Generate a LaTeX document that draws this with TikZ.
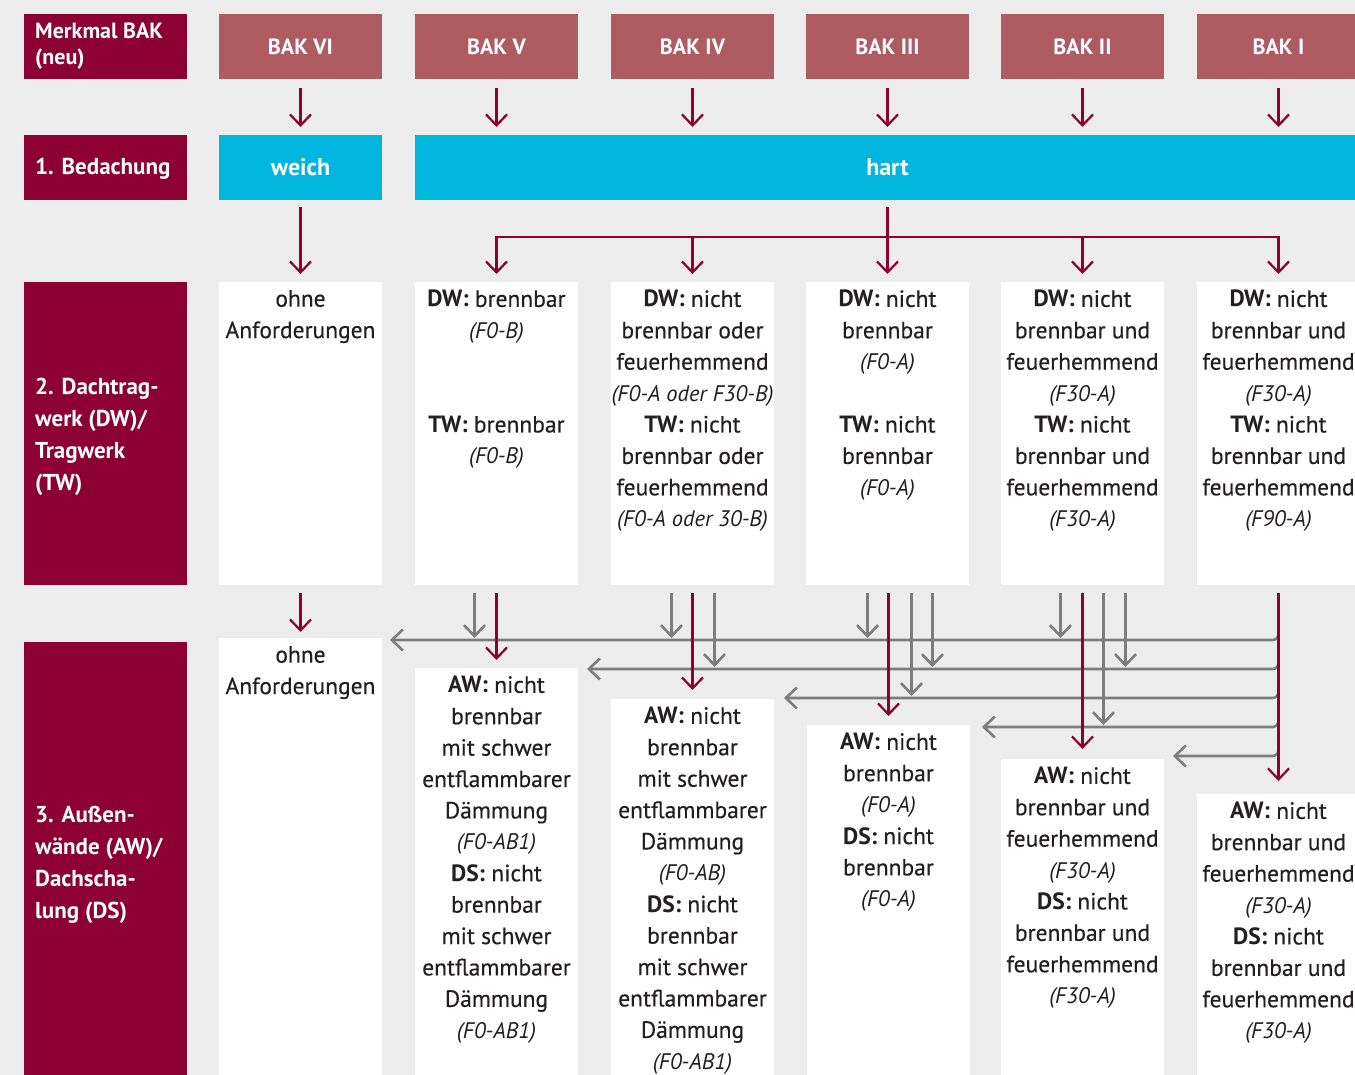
\documentclass[tikz,border=0pt]{standalone}
\usepackage{fontspec}
\setmainfont{PT Sans}
\newfontfamily\medfont[FakeBold=0.35]{PT Sans}
\newfontfamily\plainfont{PT Sans}
\usetikzlibrary{arrows.meta,calc}
\definecolor{bg}{HTML}{EDEDED}
\definecolor{wine}{HTML}{8C0032}
\definecolor{rose}{HTML}{AE5C62}
\definecolor{cyanfill}{HTML}{00B6DE}
\definecolor{arrgray}{HTML}{7D7D7D}
\definecolor{ink}{HTML}{231F20}
\tikzset{
  box/.style={rectangle, inner sep=0pt, outer sep=0pt, anchor=north west, minimum width=163pt},
  labelbox/.style={box, fill=wine},
  labeltext/.style={anchor=west, align=left, inner sep=0pt, text=white, font=\bfseries\fontsize{23}{32}\selectfont},
  headbox/.style={box, fill=rose, minimum height=65pt, text=white, font=\bfseries\fontsize{22}{26}\selectfont},
  cyanbox/.style={box, fill=cyanfill, minimum height=65pt, text=white, font=\bfseries\fontsize{24}{26}\selectfont},
  wbox/.style={box, fill=white},
  bodytext/.style={anchor=north, align=center, inner sep=0pt, text=ink, font=\medfont\fontsize{23.5}{31.4}\selectfont},
  redarr/.style={draw=wine, line width=2.2pt, -{Straight Barb[length=11pt,width=21pt]}},
  grayarr/.style={draw=arrgray, line width=2.6pt, -{Straight Barb[length=11pt,width=21pt]}}
}
\newcommand{\cd}[1]{{\plainfont\itshape\fontsize{22.5}{31.4}\selectfont #1}}
\newcommand{\bl}[1]{{\plainfont\bfseries #1}}
\begin{document}
\begin{tikzpicture}[x=1pt,y=-1pt]
\useasboundingbox (0,0) rectangle (1355,1075);
\fill[bg] (0,0) rectangle (1355,1075);
\clip (0,0) rectangle (1355,1075);

% label column
\node[labelbox, minimum height=65pt] (L0) at (24,14) {};
\node[labeltext, font=\bfseries\fontsize{22}{26}\selectfont] (L0t) at ($(L0.west)+(11,0)$) {Merkmal BAK\\(neu)};
\node[labelbox, minimum height=65pt] (L1) at (24,135) {};
\node[labeltext] (L1t) at ($(L1.west)+(11,1)$) {1. Bedachung};
\node[labelbox, minimum height=303pt] (L2) at (24,282) {};
\node[labeltext] (L2t) at ($(L2.west)+(11,3)$) {2. Dachtrag-\\werk (DW)/\\Tragwerk\\(TW)};
\node[labelbox, minimum height=440pt] (L3) at (24,642) {};
\node[labeltext] (L3t) at ($(L3.west)+(11,3)$) {3. Außen-\\wände (AW)/\\Dachscha-\\lung (DS)};

% header
\node[headbox] (k6) at (219,14) {BAK VI};
\node[headbox] (k5) at (415,14) {BAK V};
\node[headbox] (k4) at (611,14) {BAK IV};
\node[headbox] (k3) at (806,14) {BAK III};
\node[headbox] (k2) at (1001,14) {BAK II};
\node[headbox] (k1) at (1197,14) {BAK I};

% row 1
\node[cyanbox] (weich) at (219,135) {weich};
\node[cyanbox, minimum width=945pt] (hart) at (415,135) {hart};

% row 2
\node[wbox, minimum height=303pt] (r6) at (219,282) {};
\node[wbox, minimum height=303pt] (r5) at (415,282) {};
\node[wbox, minimum height=303pt] (r4) at (611,282) {};
\node[wbox, minimum height=303pt] (r3) at (806,282) {};
\node[wbox, minimum height=303pt] (r2) at (1001,282) {};
\node[wbox, minimum height=303pt] (r1) at (1197,282) {};

\node[bodytext] (r6t) at ($(r6.north)+(0,8)$) {ohne\\Anforderungen};
\node[bodytext] (r5t) at ($(r5.north)+(0,8)$) {\bl{DW:} brennbar\\\cd{(F0-B)}\\~\\~\\\bl{TW:} brennbar\\\cd{(F0-B)}};
\node[bodytext] (r4t) at ($(r4.north)+(0,8)$) {\bl{DW:} nicht\\brennbar oder\\feuerhemmend\\\cd{(F0-A oder F30-B)}\\\bl{TW:} nicht\\brennbar oder\\feuerhemmend\\\cd{(F0-A oder 30-B)}};
\node[bodytext] (r3t) at ($(r3.north)+(0,8)$) {\bl{DW:} nicht\\brennbar\\\cd{(F0-A)}\\~\\\bl{TW:} nicht\\brennbar\\\cd{(F0-A)}};
\node[bodytext] (r2t) at ($(r2.north)+(0,8)$) {\bl{DW:} nicht\\brennbar und\\feuerhemmend\\\cd{(F30-A)}\\\bl{TW:} nicht\\brennbar und\\feuerhemmend\\\cd{(F30-A)}};
\node[bodytext] (r1t) at ($(r1.north)+(0,8)$) {\bl{DW:} nicht\\brennbar und\\feuerhemmend\\\cd{(F30-A)}\\\bl{TW:} nicht\\brennbar und\\feuerhemmend\\\cd{(F90-A)}};

% row 3
\node[wbox, minimum height=460pt] (s6) at (219,638) {};
\node[wbox, minimum height=460pt] (s5) at (415,668) {};
\node[wbox, minimum height=460pt] (s4) at (611,699) {};
\node[wbox, minimum height=460pt] (s3) at (807,725) {};
\node[wbox, minimum height=460pt] (s2) at (1001,759) {};
\node[wbox, minimum height=460pt] (s1) at (1197,794) {};

\node[bodytext] (s6t) at ($(s6.north)+(0,8)$) {ohne\\Anforderungen};
\node[bodytext] (s5t) at ($(s5.north)+(0,8)$) {\bl{AW:} nicht\\brennbar\\mit schwer\\entflammbarer\\Dämmung\\\cd{(F0-AB1)}\\\bl{DS:} nicht\\brennbar\\mit schwer\\entflammbarer\\Dämmung\\\cd{(F0-AB1)}};
\node[bodytext] (s4t) at ($(s4.north)+(0,8)$) {\bl{AW:} nicht\\brennbar\\mit schwer\\entflammbarer\\Dämmung\\\cd{(F0-AB)}\\\bl{DS:} nicht\\brennbar\\mit schwer\\entflammbarer\\Dämmung\\\cd{(F0-AB1)}};
\node[bodytext] (s3t) at ($(s3.north)+(0,8)$) {\bl{AW:} nicht\\brennbar\\\cd{(F0-A)}\\\bl{DS:} nicht\\brennbar\\\cd{(F0-A)}};
\node[bodytext] (s2t) at ($(s2.north)+(0,8)$) {\bl{AW:} nicht\\brennbar und\\feuerhemmend\\\cd{(F30-A)}\\\bl{DS:} nicht\\brennbar und\\feuerhemmend\\\cd{(F30-A)}};
\node[bodytext] (s1t) at ($(s1.north)+(0,8)$) {\bl{AW:} nicht\\brennbar und\\feuerhemmend\\\cd{(F30-A)}\\\bl{DS:} nicht\\brennbar und\\feuerhemmend\\\cd{(F30-A)}};

% header -> row 1
\foreach \k in {k6,k5,k4,k3,k2,k1}
  \draw[redarr] ($(\k.south)+(0,9)$) -- ($(\k.south |- weich.north)+(0,-8)$);

% row 1 -> row 2
\coordinate (bar) at (0,237);
\draw[redarr] ($(weich.south)+(0,7)$) -- ($(r6.north)+(0,-8)$);
\draw[redarr] (r3.north |- bar) -- (r5.north |- bar) -- ($(r5.north)+(0,-8)$);
\draw[redarr] (r3.north |- bar) -- (r1.north |- bar) -- ($(r1.north)+(0,-8)$);
\draw[redarr] (r4.north |- bar) -- ($(r4.north)+(0,-8)$);
\draw[redarr] (r2.north |- bar) -- ($(r2.north)+(0,-8)$);
\draw[redarr] ($(hart.south -| r3.north)+(0,7)$) -- ($(r3.north)+(0,-8)$);

% row 2 -> row 3 : gray distribution lines
\coordinate (g1) at (0,640);
\coordinate (g2) at (0,669);
\coordinate (g3) at (0,698);
\coordinate (g4) at (0,727);
\coordinate (g5) at (0,756);
\draw[grayarr, rounded corners=6pt] ($(r1.south |- g1)+(0,-12)$) |- ($(s6.north east |- g1)+(8,0)$);
\draw[grayarr, rounded corners=6pt] ($(r1.south |- g2)+(0,-12)$) |- ($(s5.north east |- g2)+(9,0)$);
\draw[grayarr, rounded corners=6pt] ($(r1.south |- g3)+(0,-12)$) |- ($(s4.north east |- g3)+(10,0)$);
\draw[grayarr, rounded corners=6pt] ($(r1.south |- g4)+(0,-12)$) |- ($(s3.north east |- g4)+(12,0)$);
\draw[grayarr, rounded corners=6pt] ($(r1.south |- g5)+(0,-12)$) |- ($(s2.north east |- g5)+(9,0)$);

\draw[grayarr] ($(r5.south)+(-22,8)$) -- ($(r5.south |- g1)+(-22,-2)$);
\draw[grayarr] ($(r4.south)+(-21,8)$) -- ($(r4.south |- g1)+(-21,-2)$);
\draw[grayarr] ($(r4.south)+(22,8)$) -- ($(r4.south |- g2)+(22,-2)$);
\draw[grayarr] ($(r3.south)+(-20,8)$) -- ($(r3.south |- g1)+(-20,-2)$);
\draw[grayarr] ($(r3.south)+(24,8)$) -- ($(r3.south |- g3)+(24,-2)$);
\draw[grayarr] ($(r3.south)+(45,8)$) -- ($(r3.south |- g2)+(45,-2)$);
\draw[grayarr] ($(r2.south)+(-22,8)$) -- ($(r2.south |- g1)+(-22,-2)$);
\draw[grayarr] ($(r2.south)+(21,8)$) -- ($(r2.south |- g4)+(21,-2)$);
\draw[grayarr] ($(r2.south)+(43,8)$) -- ($(r2.south |- g2)+(43,-2)$);

% row 2 -> row 3 : red
\draw[redarr] ($(r6.south)+(0,8)$) -- ($(s6.north)+(0,-6)$);
\draw[redarr] ($(r5.south)+(0,8)$) -- ($(s5.north)+(0,-8)$);
\draw[redarr] ($(r4.south)+(0,8)$) -- ($(s4.north)+(0,-9)$);
\draw[redarr] ($(r3.south)+(1,8)$) -- ($(r3.south |- s3.north)+(1,-9)$);
\draw[redarr] ($(r2.south)+(0,8)$) -- ($(s2.north)+(0,-10)$);
\draw[redarr] ($(r1.south)+(0,8)$) -- ($(s1.north)+(0,-13)$);
\end{tikzpicture}
\end{document}
